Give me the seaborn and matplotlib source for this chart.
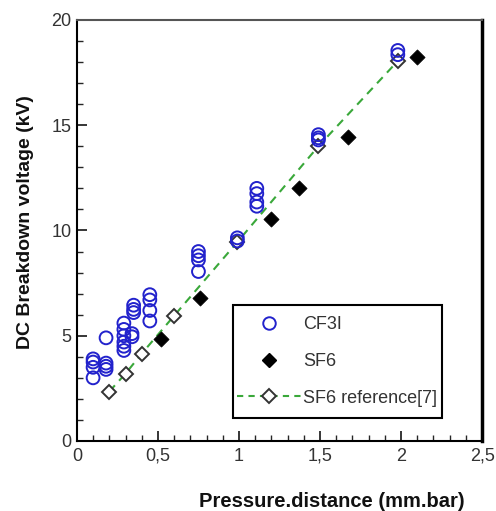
import matplotlib
matplotlib.use("Agg")
import matplotlib.pyplot as plt
import seaborn as sns
import pandas as pd
from matplotlib.ticker import MultipleLocator
from matplotlib.lines import Line2D
from matplotlib.patches import Rectangle

# CF3I measurements
cf3i_x = [0.10, 0.10, 0.10, 0.10, 0.18, 0.18, 0.18, 0.18,
          0.29, 0.29, 0.29, 0.29, 0.29, 0.29, 0.34, 0.34,
          0.35, 0.35, 0.35, 0.45, 0.45, 0.45, 0.45,
          0.75, 0.75, 0.75, 0.75, 0.99, 0.99,
          1.11, 1.11, 1.11, 1.11, 1.49, 1.49, 1.49, 1.98, 1.98]
cf3i_y = [3.9, 3.75, 3.5, 3.0, 4.9, 3.7, 3.55, 3.4,
          5.6, 5.3, 5.0, 4.7, 4.5, 4.3, 5.1, 4.95,
          6.45, 6.25, 6.1, 6.95, 6.7, 6.2, 5.7,
          9.0, 8.8, 8.6, 8.05, 9.65, 9.5,
          12.0, 11.75, 11.35, 11.15, 14.55, 14.4, 14.3, 18.55, 18.35]

# SF6 measurements
sf6_x = [0.52, 0.76, 1.20, 1.37, 1.67, 2.10]
sf6_y = [4.85, 6.8, 10.55, 12.0, 14.45, 18.25]

# SF6 reference [7]
ref_x = [0.20, 0.30, 0.40, 0.60, 0.99, 1.49, 1.98]
ref_y = [2.35, 3.2, 4.15, 5.95, 9.45, 14.0, 18.05]

x_ticks = [0, 0.5, 1, 1.5, 2, 2.5]
x_tick_labels = ["0", "0,5", "1", "1,5", "2", "2,5"]
y_ticks = [0, 5, 10, 15, 20]

sns.set_style("ticks")
plt.rcParams['font.family'] = ['Liberation Sans', 'DejaVu Sans']

fig = plt.figure(figsize=(4.96, 5.11), dpi=100)
ax = fig.add_axes([0.155, 0.137, 0.817, 0.824])

blue = "#2222cc"
green = "#3aa83a"
txt = "#333333"

cf = pd.DataFrame({"x": cf3i_x, "y": cf3i_y})
sf = pd.DataFrame({"x": sf6_x, "y": sf6_y})
rf = pd.DataFrame({"x": ref_x, "y": ref_y})

sns.lineplot(data=rf, x="x", y="y", ax=ax, color=green, linestyle=(0, (4, 3)),
             linewidth=1.5, marker="D", markersize=7, markerfacecolor="white",
             markeredgecolor="#333333", markeredgewidth=1.4, sort=False,
             zorder=2, label="_nolegend_")
sns.scatterplot(data=cf, x="x", y="y", ax=ax, marker="o", s=85,
                facecolor="none", edgecolor=blue, linewidth=1.4, zorder=3)
sns.scatterplot(data=sf, x="x", y="y", ax=ax, marker="D", s=60,
                color="black", edgecolor="black", linewidth=0.5, zorder=4)

ax.set_xlim(0, 2.5)
ax.set_ylim(0, 20)
ax.set_xticks(x_ticks)
ax.set_xticklabels(x_tick_labels)
ax.set_yticks(y_ticks)
ax.xaxis.set_minor_locator(MultipleLocator(0.1))
ax.yaxis.set_minor_locator(MultipleLocator(1))
ax.tick_params(axis="both", which="major", direction="in", length=7, width=1.3,
               labelsize=13, labelcolor=txt, top=False, right=False, pad=4)
ax.tick_params(axis="both", which="minor", direction="in", length=4, width=1.0,
               top=False, right=False)
ax.tick_params(axis="x", which="major", pad=5)

for side in ["left", "bottom"]:
    ax.spines[side].set_linewidth(1.5)
    ax.spines[side].set_color("black")
ax.spines["top"].set_linewidth(1.5)
ax.spines["top"].set_color("#555555")
ax.spines["right"].set_linewidth(2.5)
ax.spines["right"].set_color("black")

ax.set_xlabel("Pressure.distance (mm.bar)", fontsize=14.5, fontweight="bold",
              color="#111111")
ax.xaxis.set_label_coords(0.63, -0.12)
ax.set_ylabel("DC Breakdown voltage (kV)", fontsize=14, fontweight="bold",
              color="#111111")
ax.yaxis.set_label_coords(-0.106, 0.52)

handles = [
    Line2D([], [], linestyle="none", marker="o", markersize=9, markerfacecolor="none",
           markeredgecolor=blue, markeredgewidth=1.4),
    Line2D([], [], linestyle="none", marker="D", markersize=7.5, color="black"),
    Line2D([], [], color=green, linestyle=(0, (3, 2.5)), linewidth=1.5, marker="D",
           markersize=7, markerfacecolor="white", markeredgecolor="#333333",
           markeredgewidth=1.4),
]
leg = ax.legend(handles, ["CF3I", "SF6", "SF6 reference[7]"], loc="center",
                bbox_to_anchor=(0.643, 0.189), frameon=False, fontsize=13,
                labelspacing=1.1, borderpad=0, handlelength=3.5,
                handletextpad=0.15, borderaxespad=0)
for t in leg.get_texts():
    t.set_color(txt)
# legend frame
ax.add_patch(Rectangle((0.385, 0.0546), 0.516, 0.268, transform=ax.transAxes,
                       fill=False, edgecolor="black", linewidth=1.5, zorder=5))

fig.savefig("out.png", dpi=100, facecolor="white")
